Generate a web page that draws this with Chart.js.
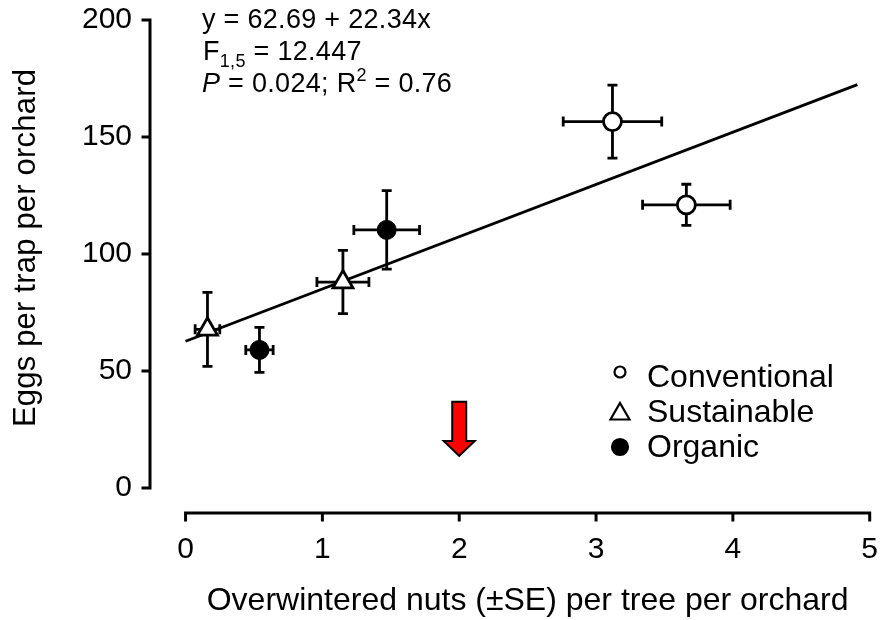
<!DOCTYPE html>
<html>
<head>
<meta charset="utf-8">
<script src="https://cdn.jsdelivr.net/npm/chart.js@4.4.0/dist/chart.umd.min.js"></script>
<style>
  html, body { margin: 0; padding: 0; background: #fff; }
  #wrap { width: 884px; height: 620px; }
</style>
</head>
<body>
<div id="wrap"><canvas id="chart"></canvas></div>
<script>
// data
const seriesNames = ["Conventional", "Sustainable", "Organic"];

const conventionalX = [3.12, 3.66];
const conventionalY = [156.6, 121];
const conventionalXErr = [0.36, 0.32];
const conventionalYErr = [15.6, 8.8];

const sustainableX = [0.16, 1.15];
const sustainableY = [67.8, 88];
const sustainableXErr = [0.09, 0.19];
const sustainableYErr = [15.8, 13.5];

const organicX = [0.54, 1.47];
const organicY = [59, 110.3];
const organicXErr = [0.1, 0.24];
const organicYErr = [9.6, 16.8];

// regression line end points
const fitX = [0, 4.91];
const fitY = [62.7, 172.4];

const xTicks = [0, 1, 2, 3, 4, 5];
const yTicks = [0, 50, 100, 150, 200];

// red arrow at x = 2
const arrowX = 2;
const arrowTop = 36.8;
const arrowHeadBase = 20.1;
const arrowTip = 13.7;

const xTitle = "Overwintered nuts (±SE) per tree per orchard";
const yTitle = "Eggs per trap per orchard";

const FONT = '"Liberation Sans", Arial, sans-serif';
const TICK = 7;

function toPoints(xs, ys, xe, ye) {
    return xs.map((x, i) => ({ x: x, y: ys[i], xErr: xe ? xe[i] : 0, yErr: ye ? ye[i] : 0 }));
}

const errorBars = {
    id: "errorBars",
    beforeDatasetsDraw(chart) {
        const ctx = chart.ctx;
        const xs = chart.scales.x, ys = chart.scales.y;
        const cap = 5;
        ctx.save();
        ctx.strokeStyle = "#000";
        ctx.lineWidth = 2.8;
        chart.data.datasets.forEach((ds) => {
            if (!ds.errorBars) return;
            ds.data.forEach((p) => {
                const px = xs.getPixelForValue(p.x);
                const py = ys.getPixelForValue(p.y);
                const x1 = xs.getPixelForValue(p.x - p.xErr);
                const x2 = xs.getPixelForValue(p.x + p.xErr);
                const y1 = ys.getPixelForValue(p.y + p.yErr);
                const y2 = ys.getPixelForValue(p.y - p.yErr);
                ctx.beginPath();
                ctx.moveTo(x1, py); ctx.lineTo(x2, py);
                ctx.moveTo(x1, py - cap); ctx.lineTo(x1, py + cap);
                ctx.moveTo(x2, py - cap); ctx.lineTo(x2, py + cap);
                ctx.moveTo(px, y1); ctx.lineTo(px, y2);
                ctx.moveTo(px - cap, y1); ctx.lineTo(px + cap, y1);
                ctx.moveTo(px - cap, y2); ctx.lineTo(px + cap, y2);
                ctx.stroke();
            });
        });
        ctx.restore();
    }
};

// draws a row of text pieces (sub/superscripts) starting at x
function drawRuns(ctx, x, y, runs, spacing) {
    runs.forEach((r) => {
        ctx.font = (r.italic ? "italic " : "") + r.size + "px " + FONT;
        ctx.letterSpacing = spacing + "px";
        ctx.fillText(r.text, x, y + (r.dy || 0));
        x += ctx.measureText(r.text).width;
    });
}

const extras = {
    id: "extras",
    afterDatasetsDraw(chart) {
        const ctx = chart.ctx;
        const xs = chart.scales.x, ys = chart.scales.y;
        ctx.save();

        // detached axis lines and their ticks
        ctx.strokeStyle = "#000";
        ctx.lineWidth = 3;
        ctx.lineCap = "square";
        ctx.beginPath();
        const ax = chart.chartArea.left;
        ctx.moveTo(ax, ys.getPixelForValue(yTicks[0]));
        ctx.lineTo(ax, ys.getPixelForValue(yTicks[yTicks.length - 1]));
        yTicks.forEach((v) => {
            const py = ys.getPixelForValue(v);
            ctx.moveTo(ax - TICK, py);
            ctx.lineTo(ax, py);
        });
        const ay = chart.chartArea.bottom;
        ctx.moveTo(xs.getPixelForValue(xTicks[0]), ay);
        ctx.lineTo(xs.getPixelForValue(xTicks[xTicks.length - 1]), ay);
        xTicks.forEach((v) => {
            const px = xs.getPixelForValue(v);
            ctx.moveTo(px, ay);
            ctx.lineTo(px, ay + TICK);
        });
        ctx.stroke();
        ctx.lineCap = "butt";

        // arrow
        const cx = xs.getPixelForValue(arrowX);
        const yT = ys.getPixelForValue(arrowTop);
        const yB = ys.getPixelForValue(arrowHeadBase);
        const yP = ys.getPixelForValue(arrowTip);
        ctx.beginPath();
        ctx.moveTo(cx - 7, yT);
        ctx.lineTo(cx + 7, yT);
        ctx.lineTo(cx + 7, yB);
        ctx.lineTo(cx + 15.5, yB);
        ctx.lineTo(cx, yP);
        ctx.lineTo(cx - 15.5, yB);
        ctx.lineTo(cx - 7, yB);
        ctx.closePath();
        ctx.fillStyle = "#ff0000";
        ctx.fill();
        ctx.lineWidth = 2;
        ctx.lineJoin = "miter";
        ctx.stroke();

        ctx.fillStyle = "#000";
        ctx.textBaseline = "alphabetic";
        ctx.textAlign = "left";

        // equation block
        drawRuns(ctx, 202, 28, [{ text: "y = 62.69 + 22.34x", size: 27 }], 0.3);
        drawRuns(ctx, 203, 60, [
            { text: "F", size: 27 },
            { text: "1,5", size: 18, dy: 7 },
            { text: " = 12.447", size: 27 }
        ], 0.3);
        drawRuns(ctx, 202, 92, [
            { text: "P", size: 27, italic: true },
            { text: " = 0.024; R", size: 27 },
            { text: "2", size: 18, dy: -11 },
            { text: " = 0.76", size: 27 }
        ], 0.3);

        // legend
        const legendY = [372, 414, 447];
        const legendBase = [387, 422, 457];
        const styles = [
            { pointStyle: "circle", radius: 5.5, fill: "#fff" },
            { pointStyle: "triangle", radius: 11, fill: "#fff" },
            { pointStyle: "circle", radius: 8, fill: "#000" }
        ];
        styles.forEach((s, i) => {
            ctx.fillStyle = s.fill;
            ctx.strokeStyle = "#000";
            ctx.lineWidth = 2.2;
            Chart.helpers.drawPoint(ctx, { pointStyle: s.pointStyle, radius: s.radius, rotation: 0, borderWidth: 2.2 }, 620, legendY[i]);
            ctx.fillStyle = "#000";
            ctx.font = "32px " + FONT;
            ctx.letterSpacing = "0px";
            ctx.fillText(seriesNames[i], 647, legendBase[i]);
        });

        // axis titles
        ctx.textAlign = "center";
        ctx.textBaseline = "middle";
        ctx.font = "32px " + FONT;
        ctx.letterSpacing = "0px";
        const xMid = (xs.getPixelForValue(xTicks[0]) + xs.getPixelForValue(xTicks[xTicks.length - 1])) / 2;
        ctx.fillText(xTitle, xMid, 601);

        ctx.translate(26, 248);
        ctx.rotate(-Math.PI / 2);
        ctx.font = "31px " + FONT;
        ctx.letterSpacing = "0.2px";
        ctx.fillText(yTitle, 0, 0);

        ctx.restore();
    }
};

Chart.defaults.font.family = FONT;
Chart.defaults.color = "#000";

const ctx = document.getElementById("chart");
new Chart(ctx, {
    type: "scatter",
    data: {
        datasets: [
            {
                label: seriesNames[0],
                data: toPoints(conventionalX, conventionalY, conventionalXErr, conventionalYErr),
                errorBars: true,
                pointStyle: "circle",
                pointRadius: 9,
                pointBackgroundColor: "#fff",
                pointBorderColor: "#000",
                pointBorderWidth: 2.8,
                order: 0
            },
            {
                label: seriesNames[1],
                data: toPoints(sustainableX, sustainableY, sustainableXErr, sustainableYErr),
                errorBars: true,
                pointStyle: "triangle",
                pointRadius: 11.5,
                pointBackgroundColor: "#fff",
                pointBorderColor: "#000",
                pointBorderWidth: 2.8,
                order: 1
            },
            {
                label: seriesNames[2],
                data: toPoints(organicX, organicY, organicXErr, organicYErr),
                errorBars: true,
                pointStyle: "circle",
                pointRadius: 9.5,
                pointBackgroundColor: "#000",
                pointBorderColor: "#000",
                pointBorderWidth: 1,
                order: 2
            },
            {
                label: "fit",
                data: toPoints(fitX, fitY),
                showLine: true,
                borderColor: "#000",
                borderWidth: 2.8,
                pointRadius: 0,
                order: 10
            }
        ]
    },
    options: {
        responsive: true,
        maintainAspectRatio: false,
        animation: false,
        devicePixelRatio: 1,
        layout: { padding: { top: 20, right: 14, left: 0, bottom: 0 } },
        plugins: {
            legend: { display: false },
            tooltip: { enabled: false }
        },
        scales: {
            x: {
                type: "linear",
                min: -0.26,
                max: 5,
                afterBuildTicks: (s) => { s.ticks = xTicks.map((v) => ({ value: v })); },
                afterFit: (s) => { s.height = 107; },
                border: { display: false },
                grid: { display: false, drawTicks: true, tickLength: 19 },
                ticks: { font: { size: 30 }, padding: 0, maxRotation: 0, autoSkip: false, color: "#000" }
            },
            y: {
                type: "linear",
                min: -10.7,
                max: 200,
                afterBuildTicks: (s) => { s.ticks = yTicks.map((v) => ({ value: v })); },
                afterFit: (s) => { s.width = 150; },
                border: { display: false },
                grid: { display: false, drawTicks: true, tickLength: 18 },
                ticks: { font: { size: 30 }, padding: 0, autoSkip: false, color: "#000" }
            }
        }
    },
    plugins: [errorBars, extras]
});
</script>
</body>
</html>
